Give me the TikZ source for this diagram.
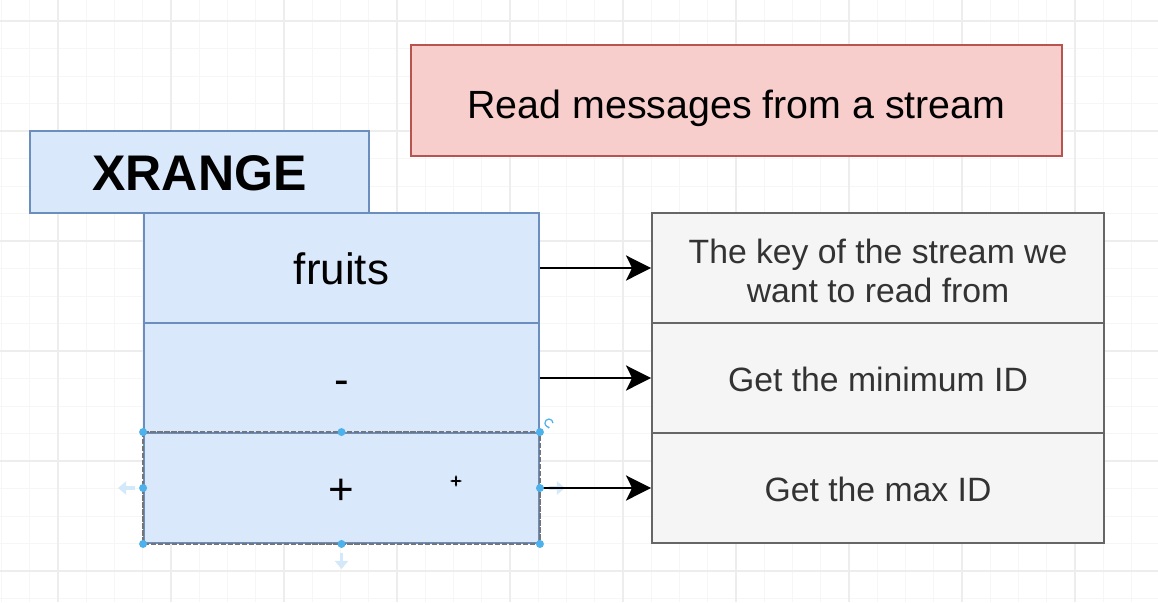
\documentclass[tikz,border=0pt]{standalone}
\usepackage{fontspec}
\setmainfont{Liberation Sans}
\usetikzlibrary{arrows.meta}
\definecolor{blueFill}{HTML}{DAE8FC}
\definecolor{blueLine}{HTML}{6C8EBF}
\definecolor{redFill}{HTML}{F8CECC}
\definecolor{redLine}{HTML}{B85450}
\definecolor{grayFill}{HTML}{F5F5F5}
\definecolor{grayLine}{HTML}{666666}
\definecolor{gridMinor}{HTML}{F6F6F6}
\definecolor{gridMajor}{HTML}{EDEDED}
\definecolor{handleBlue}{HTML}{4DB2EC}
\definecolor{hintBlue}{HTML}{D3E8F8}

\begin{document}
\begin{tikzpicture}[x=0.02cm,y=-0.02cm,
  argbox/.style={draw=blueLine, fill=blueFill, line width=1.1pt, minimum width=7.9cm, minimum height=2.2cm, inner sep=0pt, text height=19pt, text depth=0pt, font=\fontsize{25}{30}\selectfont},
  descbox/.style={draw=grayLine, fill=grayFill, line width=1.1pt, minimum width=9.04cm, minimum height=2.2cm, inner sep=0pt, text height=15pt, text depth=0pt, text=black!80, font=\fontsize{19.2}{22.2}\selectfont},
  link/.style={-{Stealth[length=0.5cm,width=0.5cm,inset=0.12cm]}, line width=1.6pt},
  hint/.style={-{Triangle[length=0.16cm,width=0.26cm]}, hintBlue, line width=2pt},
  handle/.style={fill=handleBlue}]
\useasboundingbox (0,0) rectangle (1158,602);
\fill[white] (0,0) rectangle (1158,602);
% grid
\foreach \gx in {1.5,29.75,...,1158} \draw[gridMinor, line width=0.5pt] (\gx,0) -- (\gx,602);
\foreach \gy in {21,48.5,...,602} \draw[gridMinor, line width=0.5pt] (0,\gy) -- (1158,\gy);
\foreach \gx in {58,171,...,1158} \draw[gridMajor, line width=0.6pt] (\gx,0) -- (\gx,602);
\foreach \gy in {21,131,...,602} \draw[gridMajor, line width=0.6pt] (0,\gy) -- (1158,\gy);

\node[draw=redLine, fill=redFill, line width=1.1pt, minimum width=13.02cm, minimum height=2.22cm, text height=20pt, text depth=0pt, font=\fontsize{22.4}{26}\selectfont] (title) at (736.5,100.5) {Read messages from a stream};
\node[argbox, minimum width=6.78cm, minimum height=1.64cm, text height=21pt, font=\bfseries\fontsize{28.5}{34}\selectfont] (command) at (199.5,172) {XRANGE};

\node[argbox] (key) at (341.5,268) {fruits};
\node[argbox] (start) at (341.5,378) {-};
\node[argbox] (end) at (341.5,488) {+};

\node[descbox, text height=, text depth=] (keydesc) at (878,268)
  {\raisebox{0pt}[27pt][8pt]{\begin{tabular}{@{}c@{}}The key of the stream we\\want to read from\end{tabular}}};
\node[descbox] (startdesc) at (878,378) {Get the minimum ID};
\node[descbox] (enddesc) at (878,488) {Get the max ID};

% selected cell
\draw[grayLine!90, line width=0.8pt, dash pattern=on 3pt off 1pt] (end.north west) rectangle (end.south east);
\draw[hint] ([xshift=-0.16cm]end.west) -- ++(-17,0);
\draw[hint] ([yshift=-0.18cm]end.south) -- ++(0,16);
\draw[hint] ([xshift=0.18cm]end.east) -- ++(16,0);
\draw[handleBlue, line width=0.7pt, -{Latex[length=1.5pt]}] ([shift={(13,-9)}]end.north east) arc[start angle=0, end angle=290, radius=0.08cm];

\draw[link] (key.east) -- (keydesc.west);
\draw[link] (start.east) -- (startdesc.west);
\draw[link] (end.east) -- (enddesc.west);

\foreach \a in {north west,north,north east,west,east,south west,south,south east}
  \fill[handle] (end.\a) circle (0.08cm);

% mouse pointer
\coordinate (mouse) at (456,481);
\draw[line width=0.7pt, {Latex[length=2pt]}-{Latex[length=2pt]}] ([xshift=-0.13cm]mouse) -- ([xshift=0.13cm]mouse);
\draw[line width=0.7pt, {Latex[length=2pt]}-{Latex[length=2pt]}] ([yshift=-0.13cm]mouse) -- ([yshift=0.13cm]mouse);
\end{tikzpicture}
\end{document}
